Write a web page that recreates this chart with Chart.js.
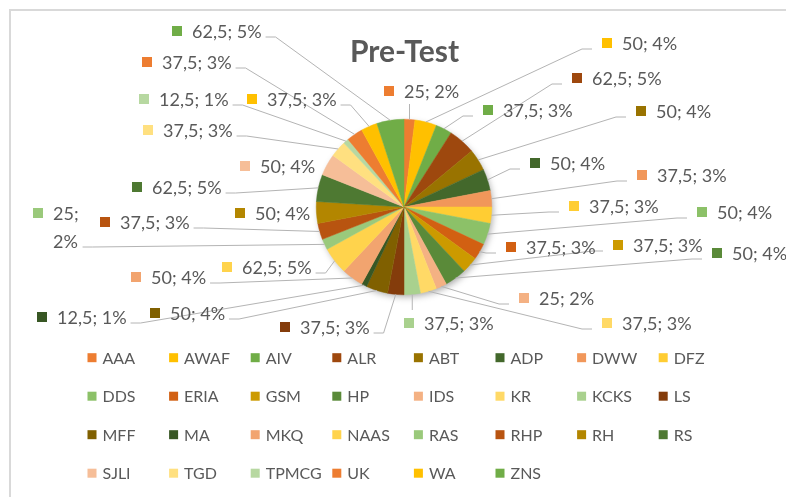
<!DOCTYPE html>
<html><head><meta charset="utf-8">
<script src="https://cdn.jsdelivr.net/npm/chart.js@4.4.1/dist/chart.umd.min.js"></script>
<style>html,body{margin:0;padding:0;background:#fff;}#wrap{width:786px;height:497px;position:relative;}</style>
</head><body><div id="wrap"><canvas id="c" width="786" height="497"></canvas></div>
<script>
// ---- data ----
const chartTitle = 'Pre-Test';
const categories = ['AAA','AWAF','AIV','ALR','ABT','ADP','DWW','DFZ','DDS','ERIA','GSM','HP','IDS','KR','KCKS','LS','MFF','MA','MKQ','NAAS','RAS','RHP','RH','RS','SJLI','TGD','TPMCG','UK','WA','ZNS'];
const preTestValues = [25,50,37.5,62.5,50,50,37.5,37.5,50,37.5,37.5,50,25,37.5,37.5,37.5,50,12.5,50,62.5,25,37.5,50,62.5,50,37.5,12.5,37.5,37.5,62.5];

// ---- styles / layout ----
const baseColors = ['#ED7D31','#FFC000','#70AD47'];
const shadeSteps = [[1,0],[0.6,0],[0.8,0.2],[0.8,0],[0.6,0.4],[0.5,0],[0.7,0.3],[0.7,0],[0.5,0.5],[1,0]];
// label square left x, label center y, wrapped?
const labelLayout = [
  [384,91],[602,43],[483,110],[572,78],[636,111],[530,163],[637,175],[569,206],[697,212],[506,247],
  [613,245],[712,253],[519,298],[602,323],[404,323],[280,327],[150,313],[37,317],[131,277],[222,267],
  [33,213,true],[100,222],[235,213],[132,187],[240,166],[143,130],[139,99],[142,62],[247,99],[172,31]
];
const TEXT_COLOR = '#595959';
const FONT = 'Lato, "Open Sans", sans-serif';

function hexToHsl(hex){
  const r=parseInt(hex.slice(1,3),16)/255,g=parseInt(hex.slice(3,5),16)/255,b=parseInt(hex.slice(5,7),16)/255;
  const mx=Math.max(r,g,b),mn=Math.min(r,g,b);let h=0,s=0;const l=(mx+mn)/2;
  if(mx!==mn){const d=mx-mn;s=l>0.5?d/(2-mx-mn):d/(mx+mn);
    if(mx===r)h=((g-b)/d+(g<b?6:0));else if(mx===g)h=(b-r)/d+2;else h=(r-g)/d+4;h*=60;}
  return [h,s,l];
}
function hslToHex(h,s,l){
  const c=(1-Math.abs(2*l-1))*s,x=c*(1-Math.abs((h/60)%2-1)),m=l-c/2;let r,g,b;
  if(h<60)[r,g,b]=[c,x,0];else if(h<120)[r,g,b]=[x,c,0];else if(h<180)[r,g,b]=[0,c,x];
  else if(h<240)[r,g,b]=[0,x,c];else if(h<300)[r,g,b]=[x,0,c];else [r,g,b]=[c,0,x];
  const t=v=>Math.round(Math.min(1,Math.max(0,v+m))*255).toString(16).padStart(2,'0');
  return '#'+t(r)+t(g)+t(b);
}
const sliceColors = categories.map((_,i)=>{
  const [h,s,l]=hexToHsl(baseColors[i%3]);
  const [mod,off]=shadeSteps[Math.floor(i/3)%shadeSteps.length];
  return hslToHex(h,s,Math.min(1,l*mod+off));
});

function fmt(v){return String(v).replace('.',',');}

const framePlugin = {
  id:'frame',
  beforeDraw(chart){
    const ctx=chart.ctx;ctx.save();
    ctx.fillStyle='#fff';ctx.fillRect(0,0,chart.width,chart.height);
    ctx.strokeStyle='#D9D9D9';ctx.lineWidth=2;
    ctx.beginPath();ctx.moveTo(10,chart.height);ctx.lineTo(10,10);ctx.lineTo(chart.width,10);ctx.stroke();
    // title
    ctx.fillStyle=TEXT_COLOR;ctx.font='bold 30px '+FONT;ctx.textAlign='center';ctx.textBaseline='alphabetic';
    ctx.fillText(chartTitle,404.5,62);
    ctx.restore();
  },
  beforeDatasetsDraw(chart){
    const arc=chart.getDatasetMeta(0).data[0];if(!arc)return;
    const {x,y,outerRadius}=arc.getProps(['x','y','outerRadius'],true);
    const ctx=chart.ctx;ctx.save();
    ctx.shadowColor='rgba(0,0,0,0.35)';ctx.shadowBlur=7;ctx.shadowOffsetX=2;ctx.shadowOffsetY=3;
    ctx.fillStyle='#fff';ctx.beginPath();ctx.arc(x,y,outerRadius-1,0,Math.PI*2);ctx.fill();
    ctx.restore();
  }
};

const labelPlugin = {
  id:'pieLabels',
  afterDatasetsDraw(chart){
    const ctx=chart.ctx;const meta=chart.getDatasetMeta(0);const ds=chart.data.datasets[0];
    const total=ds.data.reduce((a,b)=>a+b,0);
    ctx.save();ctx.font='18px '+FONT;
    const items=[];
    meta.data.forEach((arc,i)=>{
      const p=arc.getProps(['x','y','startAngle','endAngle','outerRadius'],true);
      const mid=(p.startAngle+p.endAngle)/2;
      const ax=p.x+Math.cos(mid)*p.outerRadius, ay=p.y+Math.sin(mid)*p.outerRadius;
      const v=ds.data[i];const pct=Math.round(v/total*100)+'%';
      const [sx,cy,wrap]=labelLayout[i];
      const lines=wrap?[fmt(v)+';',pct]:[fmt(v)+'; '+pct];
      const tx=sx+20;const lineH=28;
      const tw=Math.max(...lines.map(l=>ctx.measureText(l).width));
      const boxTop=cy-13, boxBottom=cy+13+(lines.length-1)*lineH;
      let px,py,ex,ey;
      const ly=cy+6+(lines.length-1)*lineH;
      if(ax>=sx&&ax<=tx+tw){px=ax;py=ay<cy?boxTop:boxBottom;ex=px;ey=py;}
      else if(ax<sx){px=sx-10;py=ly;ex=px-10;ey=py;}
      else{px=tx+tw+4;py=ly;ex=px+10;ey=py;}
      items.push({i,sx,cy,tx,lines,lineH});
      if(Math.hypot(ax-px,ay-py)>15){
        ctx.strokeStyle='#B4B4B4';ctx.lineWidth=1;
        ctx.beginPath();ctx.moveTo(px,py);ctx.lineTo(ex,ey);ctx.lineTo(ax,ay);ctx.stroke();
      }
    });
    items.forEach(it=>{
      ctx.fillStyle=ds.backgroundColor[it.i];ctx.fillRect(it.sx,it.cy-5,10,10);
      ctx.fillStyle=TEXT_COLOR;ctx.textBaseline='middle';ctx.textAlign='left';
      it.lines.forEach((l,k)=>ctx.fillText(l,it.tx,it.cy+k*it.lineH+1));
    });
    ctx.restore();
  }
};

const legendPlugin = {
  id:'gridLegend',
  afterDraw(chart){
    const ctx=chart.ctx;const ds=chart.data.datasets[0];
    const cols=8,x0=87.5,dx=81.6,y0=357.7,dy=38.5,box=9;
    ctx.save();ctx.font='16px '+FONT;ctx.textBaseline='middle';ctx.textAlign='left';
    chart.data.labels.forEach((lab,i)=>{
      const c=i%cols,r=Math.floor(i/cols);
      const x=x0+c*dx,y=y0+r*dy;
      ctx.fillStyle=ds.backgroundColor[i];ctx.fillRect(x,y-box/2,box,box);
      ctx.fillStyle=TEXT_COLOR;ctx.fillText(lab,x+15,y+1);
    });
    ctx.restore();
  }
};

new Chart(document.getElementById('c'),{
  type:'pie',
  data:{labels:categories,datasets:[{data:preTestValues,backgroundColor:sliceColors,borderColor:sliceColors,borderWidth:0.5}]},
  options:{
    responsive:false,animation:false,
    layout:{padding:{top:119,bottom:202,left:316,right:294}},
    plugins:{legend:{display:false},tooltip:{enabled:false},title:{display:false}}
  },
  plugins:[framePlugin,labelPlugin,legendPlugin]
});
</script></body></html>
